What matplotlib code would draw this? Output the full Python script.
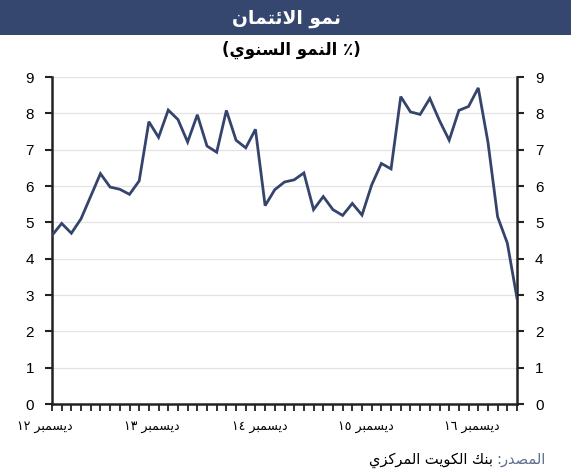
import matplotlib
matplotlib.use("Agg")
import matplotlib.pyplot as plt
from matplotlib.patches import Rectangle

# ---------------- data ----------------
credit_growth = [4.64, 4.97, 4.70, 5.10, 5.72, 6.34, 5.97, 5.91, 5.77, 6.14,
                 7.77, 7.34, 8.09, 7.83, 7.21, 7.96, 7.10, 6.93, 8.08, 7.26,
                 7.05, 7.56, 5.46, 5.90, 6.11, 6.17, 6.36, 5.35, 5.71, 5.35,
                 5.19, 5.52, 5.20, 6.03, 6.62, 6.47, 8.46, 8.04, 7.97, 8.41,
                 7.80, 7.26, 8.08, 8.19, 8.70, 7.21, 5.15, 4.43, 2.91]
year_labels = ["١٢", "١٣", "١٤", "١٥", "١٦"]
month_word = "ديسمبر"
label_pos = [-0.72, 10.3, 21.4, 32.4, 43.3]
y_ticks = list(range(0, 10))

# ---------------- minimal Arabic shaping -> visual (left-to-right) glyphs ----------------
FORMS = {
    'ا': ('\uFE8D', '\uFE8E', None, None),
    'ب': ('\uFE8F', '\uFE90', '\uFE91', '\uFE92'),
    'ت': ('\uFE95', '\uFE96', '\uFE97', '\uFE98'),
    'د': ('\uFEA9', '\uFEAA', None, None),
    'ر': ('\uFEAD', '\uFEAE', None, None),
    'ز': ('\uFEAF', '\uFEB0', None, None),
    'س': ('\uFEB1', '\uFEB2', '\uFEB3', '\uFEB4'),
    'ص': ('\uFEB9', '\uFEBA', '\uFEBB', '\uFEBC'),
    'ك': ('\uFED9', '\uFEDA', '\uFEDB', '\uFEDC'),
    'ل': ('\uFEDD', '\uFEDE', '\uFEDF', '\uFEE0'),
    'م': ('\uFEE1', '\uFEE2', '\uFEE3', '\uFEE4'),
    'ن': ('\uFEE5', '\uFEE6', '\uFEE7', '\uFEE8'),
    'و': ('\uFEED', '\uFEEE', None, None),
    'ي': ('\uFEF1', '\uFEF2', '\uFEF3', '\uFEF4'),
    'ئ': ('\uFE89', '\uFE8A', '\uFE8B', '\uFE8C'),
    'لا': ('\uFEFB', '\uFEFC', None, None),
}


def vis(word):
    """Shape one Arabic word and return its glyphs in visual (LTR) order."""
    toks = []
    i = 0
    while i < len(word):
        if word[i] == 'ل' and i + 1 < len(word) and word[i + 1] == 'ا':
            toks.append('لا')
            i += 2
        else:
            toks.append(word[i])
            i += 1
    out = []
    for k, t in enumerate(toks):
        f = FORMS.get(t)
        if f is None:
            out.append(t)
            continue
        prev = toks[k - 1] if k > 0 else None
        nxt = toks[k + 1] if k + 1 < len(toks) else None
        join_prev = prev is not None and prev in FORMS and FORMS[prev][2] is not None
        join_next = nxt is not None and nxt in FORMS and f[2] is not None
        if join_prev and join_next:
            g = f[3]
        elif join_prev:
            g = f[1]
        elif join_next:
            g = f[2]
        else:
            g = f[0]
        out.append(g)
    return ''.join(reversed(out))


def vis_line(text):
    """Right-to-left line: reverse word order, shape each word."""
    return ' '.join(vis(w) for w in reversed(text.split(' ')))


AR = ['DejaVu Sans']

# ---------------- figure ----------------
W, H = 571, 473
fig = plt.figure(figsize=(W / 100, H / 100), dpi=100)
fig.patch.set_facecolor('white')

# title bar
fig.patches.append(Rectangle((0, 1 - 35 / H), 1, 35 / H, transform=fig.transFigure,
                             facecolor='#35476f', edgecolor='none', zorder=0))
fig.text(286 / W, 1 - 18 / H, vis_line('نمو الائتمان'), ha='center', va='center',
         color='white', fontsize=13.5, fontweight='bold', family=AR)
fig.text(291 / W, 1 - 50 / H, '(' + vis_line('النمو السنوي') + ' ٪)', ha='center',
         va='center', color='black', fontsize=12, fontweight='bold', family=AR)

# axes
ax = fig.add_axes([52 / W, 1 - 404 / H, 465 / W, 327 / H])
x = list(range(len(credit_growth)))
ax.plot(x, credit_growth, color='#34446c', lw=2.0, solid_joinstyle='miter', zorder=3)
ax.set_xlim(0, len(credit_growth) - 1)
ax.set_ylim(0, 9)
ax.set_yticks(y_ticks)
ax.set_yticklabels([str(v) for v in y_ticks], family=['Liberation Sans'], fontsize=11)
ax.yaxis.grid(True, color='#e3e3e3', lw=0.9)
ax.set_axisbelow(True)
for s in ['left', 'right', 'bottom']:
    ax.spines[s].set_linewidth(1.8)
    ax.spines[s].set_color('#222222')
ax.spines['top'].set_visible(False)
ax.tick_params(axis='y', which='both', left=True, right=True, labelleft=True, labelright=True,
               direction='out', length=5, width=1.5, pad=8, colors='#222222', labelcolor='black')
ax.set_xticks(x)
ax.set_xticklabels([])
ax.tick_params(axis='x', direction='out', length=5, width=1.3, colors='#222222')

for pos, yr in zip(label_pos, year_labels):
    ax.text(pos, -0.07, yr + ' ' + vis(month_word), transform=ax.get_xaxis_transform(),
            ha='center', va='center', fontsize=9, family=AR, clip_on=False)

# source (right-to-left: "المصدر:" at the right end, in grey)
src_right = 546 / W
src_y = 1 - 464 / H
t1 = fig.text(src_right, src_y, ':' + vis('المصدر'), ha='right', va='baseline',
              color='#5d6e8c', fontsize=10.5, family=AR)
fig.canvas.draw()
bb = t1.get_window_extent()
fig.text((bb.x0 - 4) / W, src_y, vis_line('بنك الكويت المركزي'), ha='right',
         va='baseline', color='black', fontsize=10.5, family=AR)

fig.savefig('out.png', dpi=100)
